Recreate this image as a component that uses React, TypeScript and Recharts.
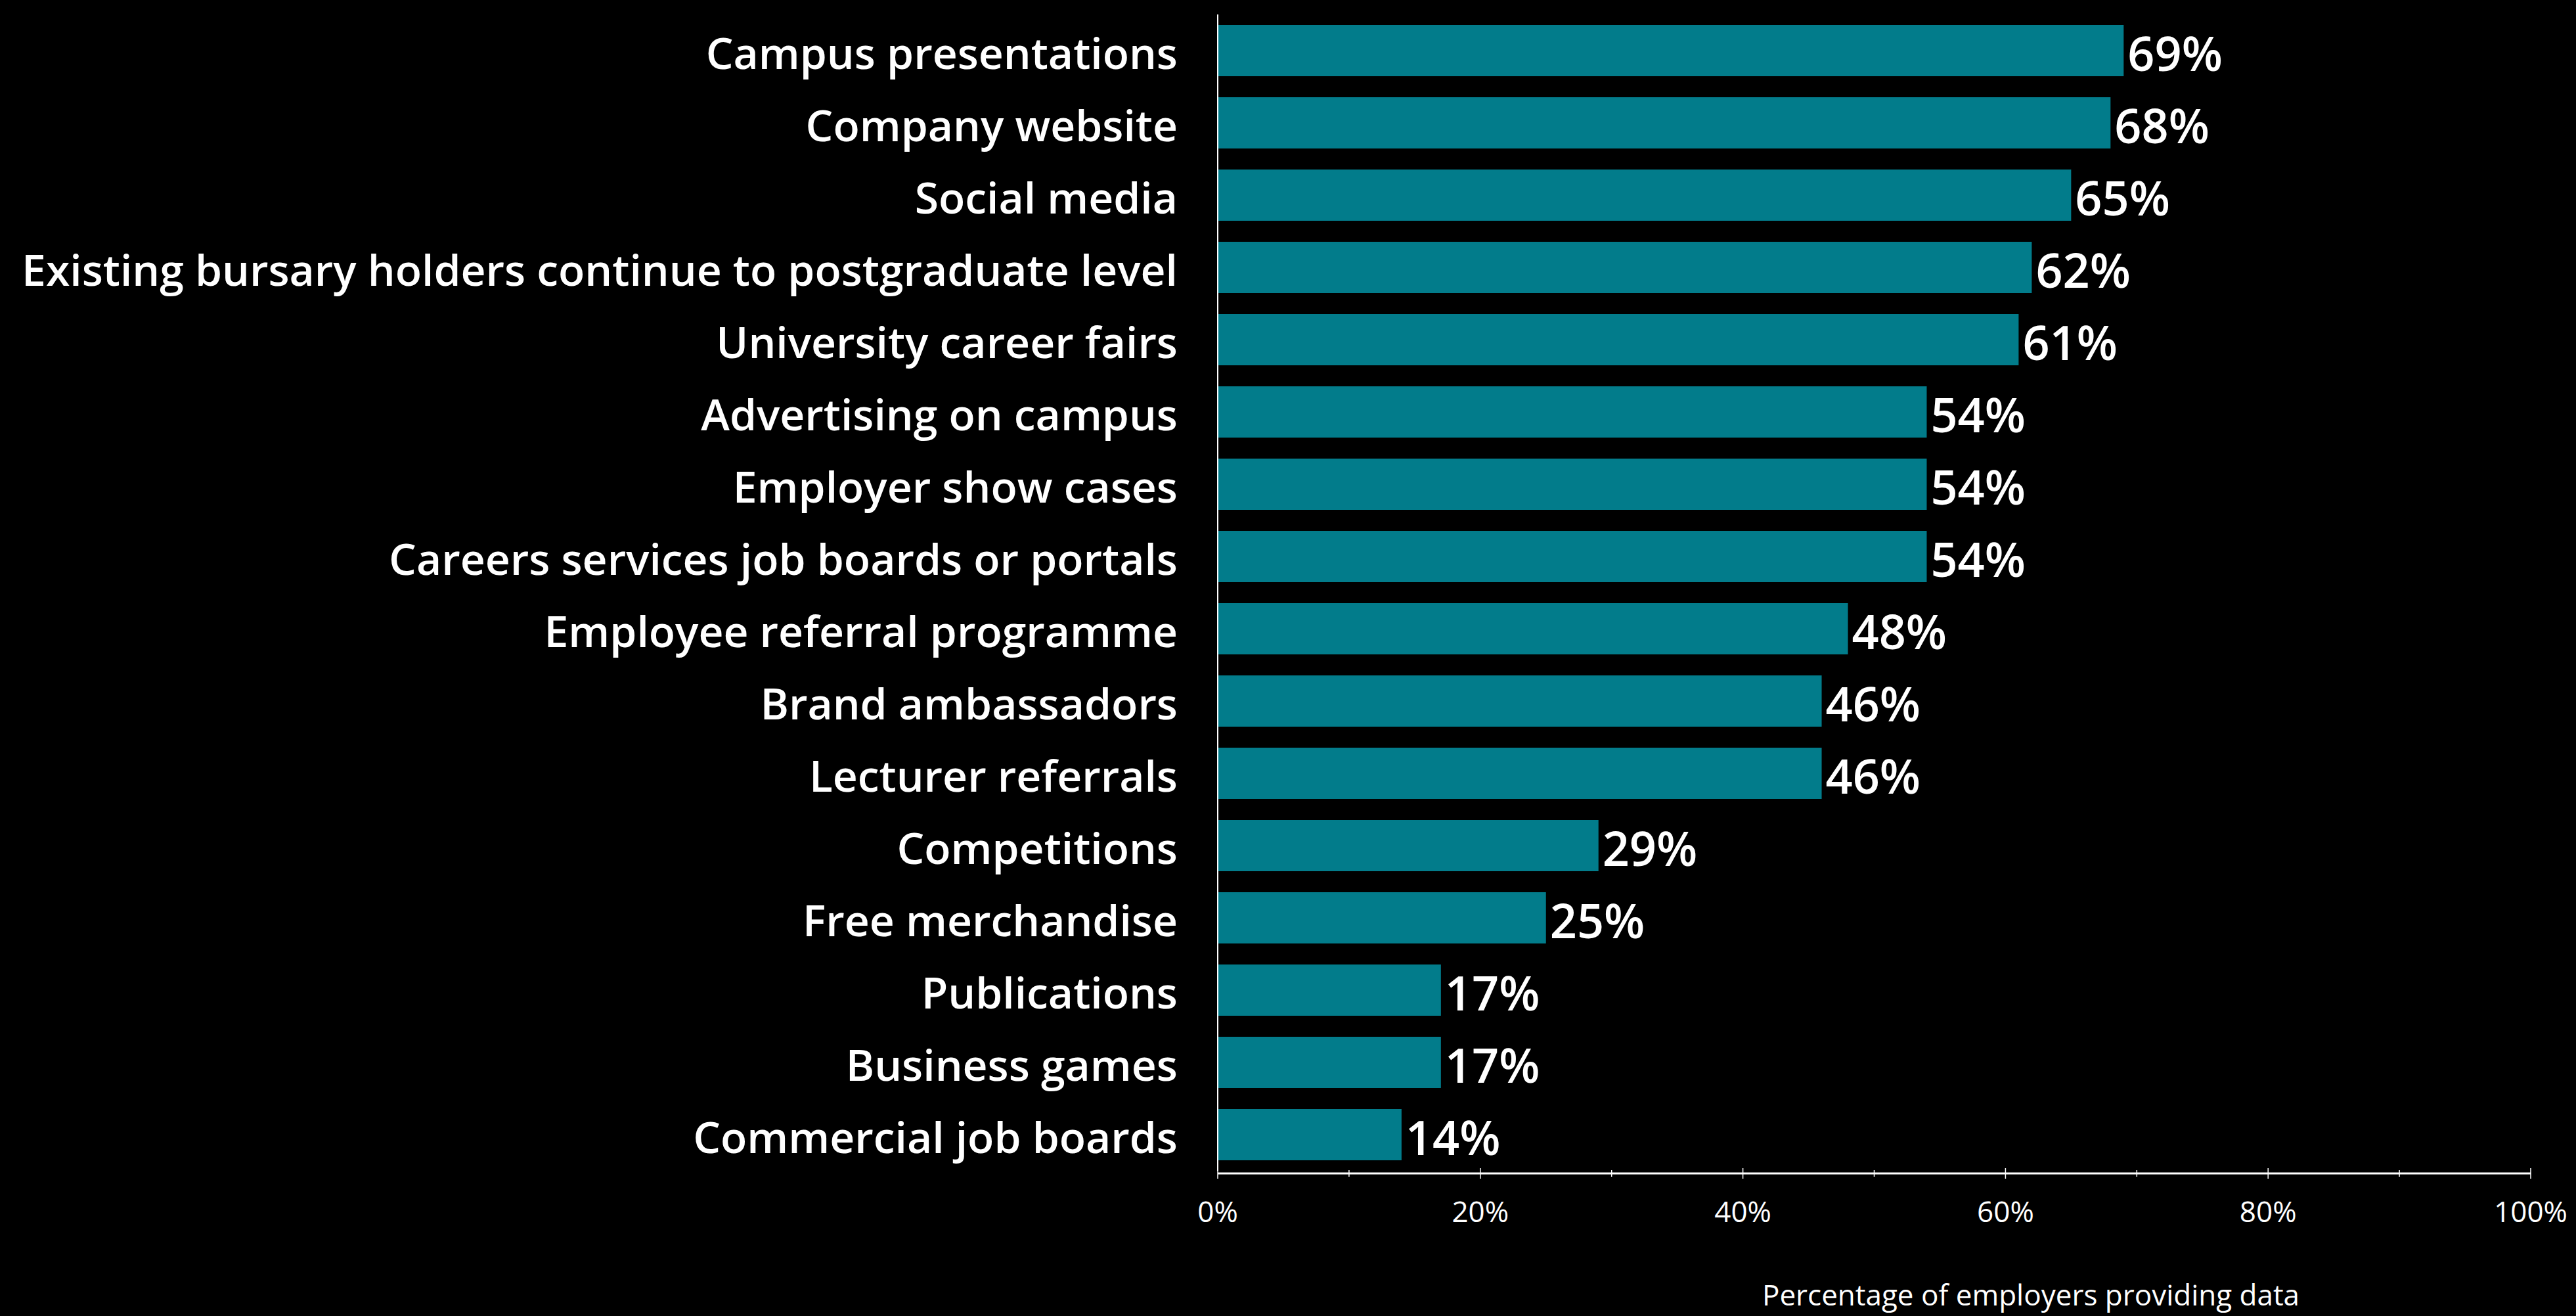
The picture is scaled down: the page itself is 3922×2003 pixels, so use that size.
import { Bar, BarChart, LabelList, XAxis, YAxis } from "recharts";

const categories = [
  "Campus presentations",
  "Company website",
  "Social media",
  "Existing bursary holders continue to postgraduate level",
  "University career fairs",
  "Advertising on campus",
  "Employer show cases",
  "Careers services job boards or portals",
  "Employee referral programme",
  "Brand ambassadors",
  "Lecturer referrals",
  "Competitions",
  "Free merchandise",
  "Publications",
  "Business games",
  "Commercial job boards",
];

const values = [69, 68, 65, 62, 61, 54, 54, 54, 48, 46, 46, 29, 25, 17, 17, 14];

const xTicks = [0, 10, 20, 30, 40, 50, 60, 70, 80, 90, 100];
const xLabelledTicks = [0, 20, 40, 60, 80, 100];

const axisTitle = "Percentage of employers providing data";

const data = categories.map((name, i) => ({ name, value: values[i] }));

const FONT = "'Open Sans', 'Noto Sans', sans-serif";
const TEAL = "#027c8b";

function PercentTick({ x, y, payload }: any) {
  const major = xLabelledTicks.includes(payload.value);
  const len = major ? 8 : 5;
  return (
    <g>
      <line x1={x} x2={x} y1={y - len + 4} y2={y + len + 4} stroke="#fff" strokeWidth={1.5} />
      {major && (
        <text x={x} y={y + 78} textAnchor="middle" fill="#fff" fontSize={44} fontFamily={FONT}>
          {payload.value}%
        </text>
      )}
    </g>
  );
}

function AxisTitle({ viewBox }: any) {
  return (
    <text
      x={viewBox.x + 1238}
      y={viewBox.y + 205}
      textAnchor="middle"
      fill="#fff"
      fontSize={44}
      fontFamily={FONT}
    >
      {axisTitle}
    </text>
  );
}

export default function App() {
  return (
    <div
      style={{
        position: "absolute",
        left: 0,
        top: 0,
        width: 3922,
        height: 2003,
        background: "#000",
      }}
    >
      <BarChart
        layout="vertical"
        width={3922}
        height={2003}
        data={data}
        margin={{ top: 22, right: 69, bottom: 0, left: 0 }}
      >
        <XAxis
          type="number"
          domain={[0, 100]}
          ticks={xTicks}
          interval={0}
          height={221}
          tickSize={0}
          tickMargin={0}
          tickLine={false}
          axisLine={{ stroke: "#fff", strokeWidth: 3, transform: "translate(0,4)" }}
          tick={<PercentTick />}
          label={{ content: <AxisTitle /> }}
        />
        <YAxis
          type="category"
          dataKey="name"
          width={1854}
          tickSize={0}
          tickMargin={61}
          tickLine={false}
          interval={0}
          axisLine={{ stroke: "#fff", strokeWidth: 2 }}
          tick={{ fill: "#fff", fontSize: 66, fontWeight: 600, fontFamily: FONT, dy: 5 }}
        />
        <Bar dataKey="value" fill={TEAL} barSize={78} isAnimationActive={false}>
          <LabelList
            dataKey="value"
            position="right"
            offset={6}
            formatter={(v: any) => `${v}%`}
            fill="#fff"
            fontSize={72}
            fontWeight={600}
            fontFamily={FONT}
            dy={5}
          />
        </Bar>
      </BarChart>
    </div>
  );
}
